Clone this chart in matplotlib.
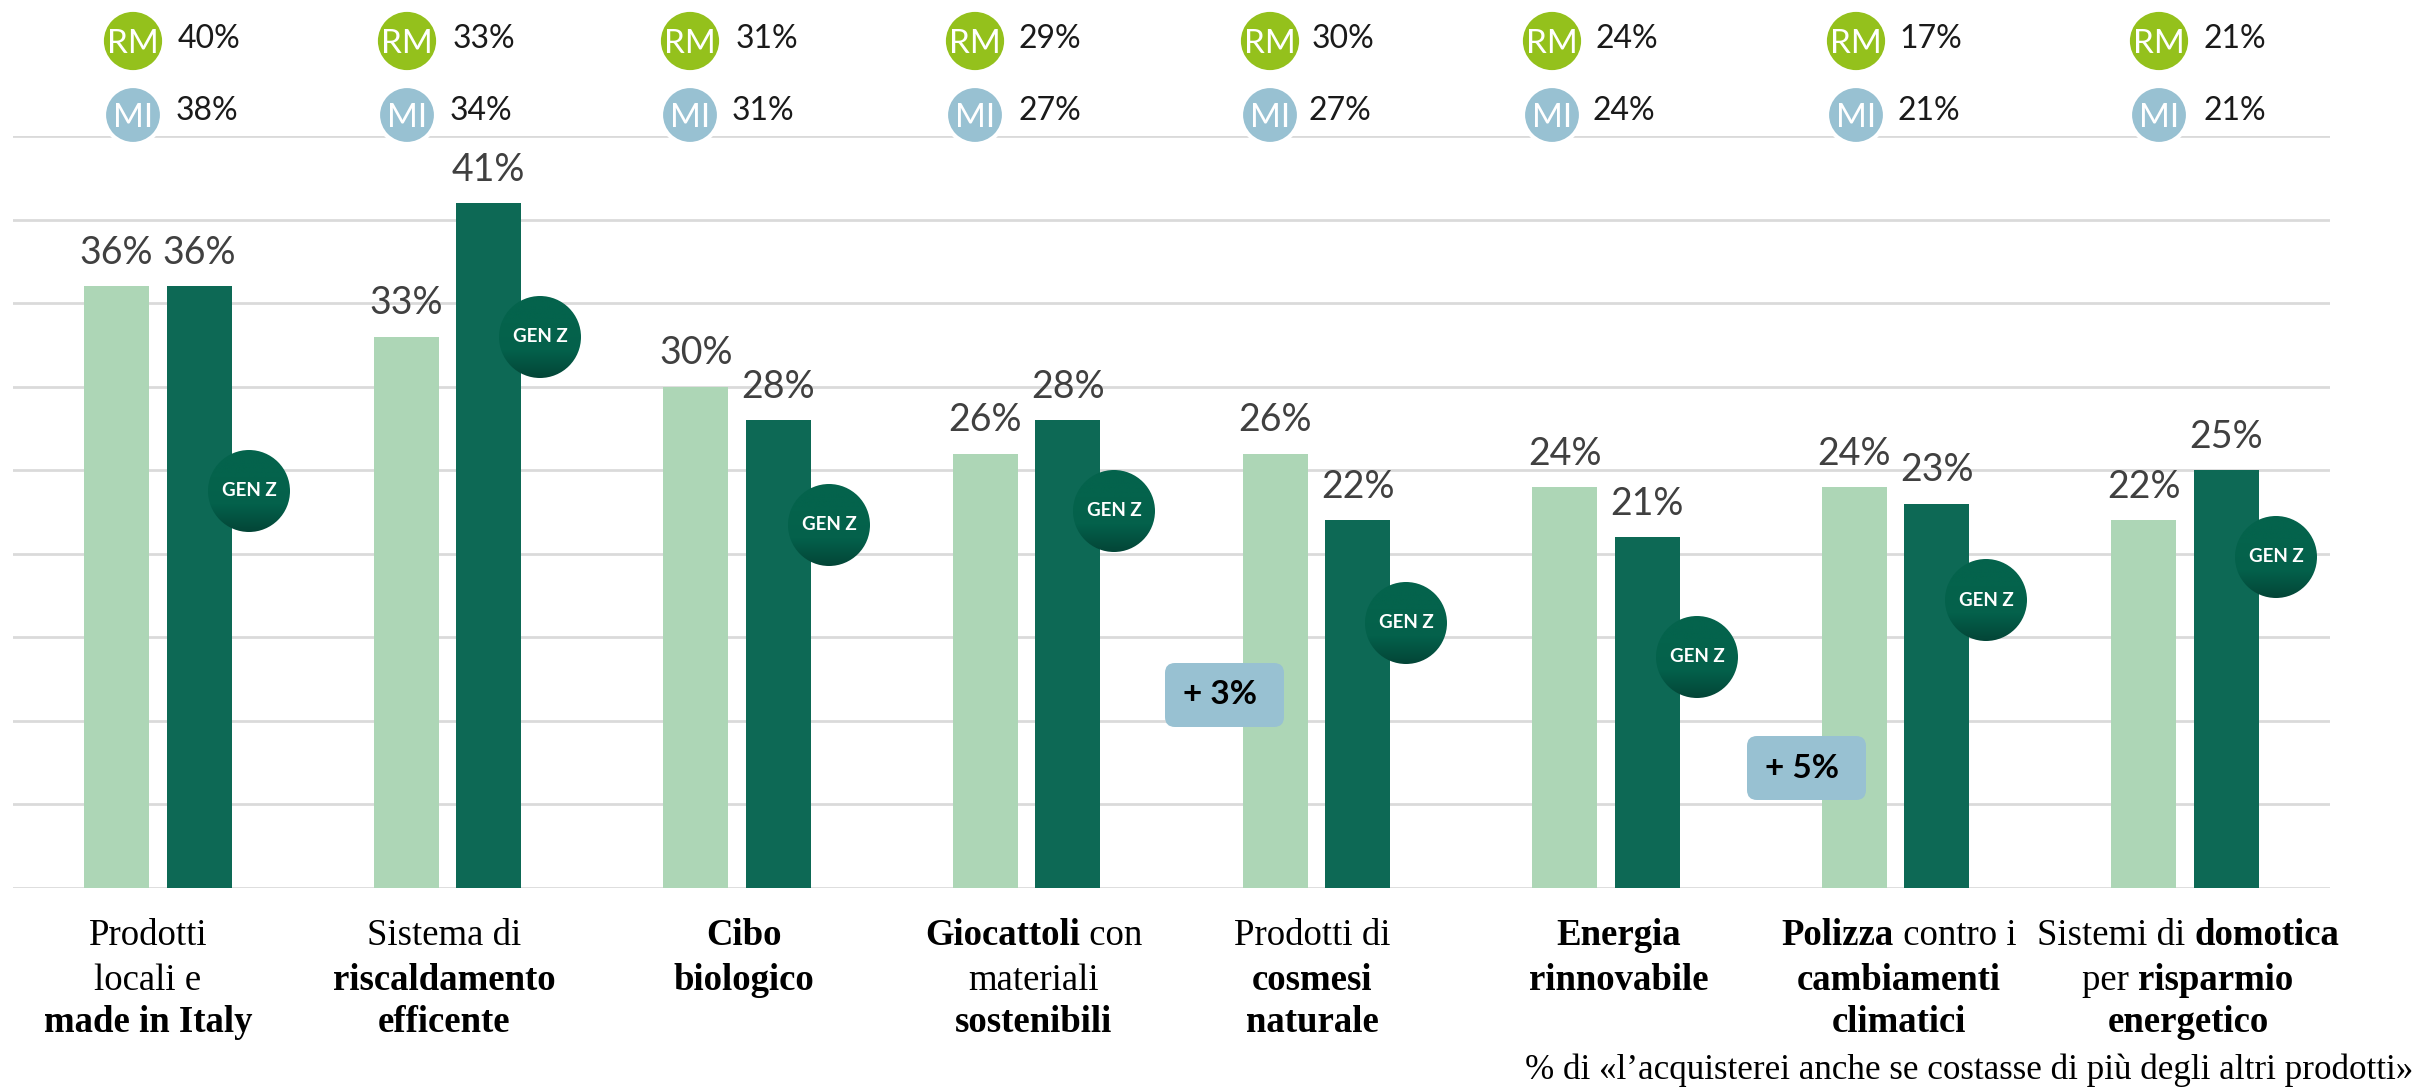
import numpy as np
import matplotlib
matplotlib.use('Agg')
import matplotlib.pyplot as plt
from matplotlib.patches import Circle, FancyBboxPatch

# valori del grafico
totale = [36, 33, 30, 26, 26, 24, 24, 22]
gen_z = [36, 41, 28, 28, 22, 21, 23, 25]
rm = ['40%', '33%', '31%', '29%', '30%', '24%', '17%', '21%']
mi = ['38%', '34%', '31%', '27%', '27%', '24%', '21%', '21%']
delta_labels = ['+ 3%', '+ 5%']
nota = '% di «l’acquisterei anche se costasse di più degli altri prodotti»'

# etichette: ogni riga e' una lista di (testo, grassetto)
categorie = [
    [[('Prodotti', False)], [('locali e', False)], [('made in Italy', True)]],
    [[('Sistema di', False)], [('riscaldamento', True)], [('efficente', True)]],
    [[('Cibo', True)], [('biologico', True)]],
    [[('Giocattoli', True), (' con', False)], [('materiali', False)], [('sostenibili', True)]],
    [[('Prodotti di', False)], [('cosmesi', True)], [('naturale', True)]],
    [[('Energia', True)], [('rinnovabile', True)]],
    [[('Polizza', True), (' contro i', False)], [('cambiamenti', True)], [('climatici', True)]],
    [[('Sistemi di ', False), ('domotica', True)], [('per ', False), ('risparmio', True)], [('energetico', True)]],
]

# posizioni in pixel del riferimento
W, H = 2420, 1089
rm_x = [133, 407, 690, 975, 1270, 1552, 1856, 2159]
rm_txt_x = [209, 484, 767, 1050, 1343, 1627, 1931, 2235]
mi_txt_x = [207, 481, 763, 1050, 1340, 1624, 1929, 2235]
genz_x = [249, 540, 829, 1114, 1406, 1697, 1986, 2276]
genz_y = [491, 337, 525, 511, 623, 657, 600, 557]
label_x = [148, 444, 744, 1034, 1312, 1619, 1899, 2188]
box_x = [1165, 1747]
box_y = [663, 736]

CHIARO = '#add6b6'
SCURO = '#0d6955'
VERDE = '#94c11c'
AZZURRO = '#98c1d2'
SANS = 'Lato'
SERIF = 'Liberation Serif'

fig = plt.figure(figsize=(W / 100, H / 100), dpi=100)
ax = fig.add_axes([13 / W, 1 - 888 / H, (2330 - 13) / W, (888 - 136) / H])

x = np.arange(len(totale))
w = 0.2244
off = 0.1426
ax.bar(x - off, totale, w, color=CHIARO, zorder=2)
ax.bar(x + off, gen_z, w, color=SCURO, zorder=2)
ax.set_xlim(-0.5, 7.5)
ax.set_ylim(0, 45)
ax.set_yticks(np.arange(0, 46, 5))
ax.set_xticks([])
ax.tick_params(left=False, labelleft=False)
ax.grid(axis='y', color='#dadada', lw=2, zorder=0)
ax.set_axisbelow(True)
for s in ax.spines.values():
    s.set_visible(False)

for i in range(len(x)):
    ax.annotate(f'{totale[i]}%', (x[i] - off, totale[i]), xytext=(0, 16), textcoords='offset points',
                ha='center', va='baseline', fontsize=27, color='#404040', family=SANS, annotation_clip=False)
    ax.annotate(f'{gen_z[i]}%', (x[i] + off, gen_z[i]), xytext=(0, 16), textcoords='offset points',
                ha='center', va='baseline', fontsize=27, color='#404040', family=SANS, annotation_clip=False)

# livello in pixel per badge, riquadri e testi
ov = fig.add_axes([0, 0, 1, 1], facecolor='none')
ov.axis('off')

grad = np.linspace(0, 1, 100).reshape(-1, 1)
cmap = matplotlib.colors.LinearSegmentedColormap.from_list(
    'genz', ['#04634c', '#04634c', '#04614b', '#034537'])
for cx, cy in zip(genz_x, genz_y):
    im = ov.imshow(grad, extent=[cx - 41, cx + 41, cy + 41, cy - 41], cmap=cmap, aspect='auto', zorder=3)
    c = Circle((cx, cy), 41, transform=ov.transData, fc='none', ec='none')
    ov.add_patch(c)
    im.set_clip_path(c)
    ov.text(cx, cy, 'GEN Z', color='white', fontsize=13.5, fontweight='bold', family=SANS,
            ha='center', va='center', zorder=4)

for i in range(len(rm)):
    ov.add_patch(Circle((rm_x[i], 41), 30.5, fc=VERDE, ec='white', lw=2, zorder=3))
    ov.text(rm_x[i], 44, 'RM', color='white', fontsize=24, family=SANS, ha='center', va='center', zorder=4)
    ov.add_patch(Circle((rm_x[i], 115), 29, fc=AZZURRO, ec='white', lw=3, zorder=3))
    ov.text(rm_x[i], 118, 'MI', color='white', fontsize=24, family=SANS, ha='center', va='center', zorder=4)
    ov.text(rm_txt_x[i], 39, rm[i], color='#1a1a1a', fontsize=23, family=SANS, ha='center', va='center', zorder=4)
    ov.text(mi_txt_x[i], 111, mi[i], color='#1a1a1a', fontsize=23, family=SANS, ha='center', va='center', zorder=4)

for bx, by, t in zip(box_x, box_y, delta_labels):
    ov.add_patch(FancyBboxPatch((bx + 10, by + 10), 99, 44, boxstyle='round,pad=10,rounding_size=10',
                                fc=AZZURRO, ec='none', zorder=5))
    ov.text(bx + 55, by + 32, t, color='black', fontsize=24, fontweight='bold', family=SANS,
            ha='center', va='center', zorder=6)

ov.set_xlim(0, W)
ov.set_ylim(H, 0)

# etichette con grassetto parziale: si misurano i pezzi e si centra la riga
fig.canvas.draw()
r = fig.canvas.get_renderer()
righe_y = [945, 990, 1032]


def riga(xc, yb, pezzi, size=26.5):
    testi = []
    for t, b in pezzi:
        testi.append(ov.text(0, yb, t.replace(' ', '\u00a0'), fontsize=size, family=SERIF, color='black',
                             fontweight='bold' if b else 'normal', ha='left', va='baseline'))
    larg = [t.get_window_extent(r).width for t in testi]
    cur = xc - sum(larg) / 2
    for t, l in zip(testi, larg):
        t.set_x(cur)
        cur += l


for xc, righe in zip(label_x, categorie):
    for yb, pezzi in zip(righe_y, righe):
        riga(xc, yb, pezzi)

ov.text(2413, 1079, nota, fontsize=25.2, family=SERIF, color='black', ha='right', va='baseline')

fig.savefig('out.png', dpi=100)
